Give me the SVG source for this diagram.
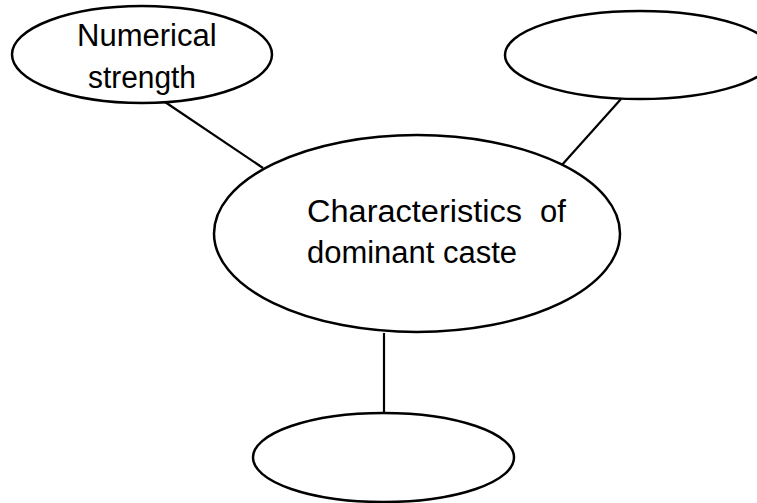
<svg xmlns="http://www.w3.org/2000/svg" width="757" height="503" viewBox="0 0 757 503">
<style>
.node{fill:#fff;stroke:#000;stroke-width:2.5}
.edge{stroke:#000;stroke-width:2.2;fill:none}
.t{font-family:"Liberation Sans",Arial,sans-serif;font-size:31px;fill:#000}
</style>
<rect width="757" height="503" fill="#fff"/>
<g id="connectors">
<line class="edge" x1="165" y1="102" x2="263" y2="168"/>
<line class="edge" x1="621" y1="99" x2="561" y2="166"/>
<line class="edge" x1="384" y1="333" x2="384" y2="413"/>
</g>
<g id="node-numerical">
<ellipse class="node" cx="142" cy="54.5" rx="130" ry="48.5"/>
<text class="t" x="77" y="46">Numerical</text>
<text class="t" x="88" y="88" textLength="108" lengthAdjust="spacingAndGlyphs">strength</text>
</g>
<g id="node-topright">
<ellipse class="node" cx="640" cy="55" rx="135" ry="44"/>
</g>
<g id="node-center">
<ellipse class="node" cx="417" cy="233.5" rx="203" ry="98.5"/>
<text class="t" x="307" y="222" textLength="215" lengthAdjust="spacingAndGlyphs">Characteristics</text>
<text class="t" x="540" y="222">of</text>
<text class="t" x="307" y="263" textLength="210" lengthAdjust="spacingAndGlyphs">dominant caste</text>
</g>
<g id="node-bottom">
<ellipse class="node" cx="383.5" cy="457.5" rx="130.5" ry="44.5"/>
</g>
</svg>
